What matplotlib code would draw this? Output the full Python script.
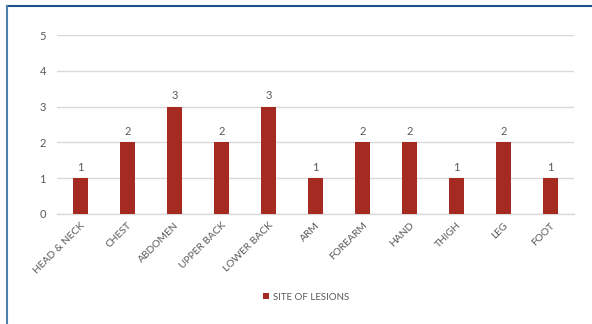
import matplotlib
matplotlib.use("Agg")
import matplotlib.pyplot as plt
from matplotlib.lines import Line2D
from matplotlib.patches import Patch

categories = ["HEAD & NECK", "CHEST", "ABDOMEN", "UPPER BACK", "LOWER BACK", "ARM",
              "FOREARM", "HAND", "THIGH", "LEG", "FOOT"]
values = [1, 2, 3, 2, 3, 1, 2, 2, 1, 2, 1]
series_name = "SITE OF LESIONS"
yticks = [0, 1, 2, 3, 4, 5]

plt.rcParams['font.family'] = ['Lato', 'DejaVu Sans']
bar_color = "#A52A22"
text_color = "#595959"

fig = plt.figure(figsize=(5.92, 3.24), dpi=100)
ax = fig.add_axes([57/592, 1-214/324, (574-57)/592, (214-35)/324])

x = list(range(len(categories)))
bars = ax.bar(x, values, width=0.32, color=bar_color, zorder=3, label=series_name)
for xi, v in zip(x, values):
    ax.annotate(str(v), (xi, v), xytext=(0, 4), textcoords="offset points",
                ha="center", va="bottom", fontsize=8, color=text_color)

ax.set_xlim(-0.5, len(categories) - 0.5)
ax.set_ylim(0, 5)
ax.set_yticks(yticks)
ax.set_yticklabels([str(t) for t in yticks], fontsize=8, color=text_color)
ax.set_xticks(x)
ax.set_xticklabels(categories, rotation=45, ha="right", rotation_mode="anchor",
                   fontsize=7.4, color=text_color)
ax.tick_params(axis="both", length=0, pad=8)
ax.tick_params(axis="x", pad=5)
ax.grid(axis="y", color="#d9d9d9", linewidth=1.0, zorder=0)
for s in ["top", "right", "left"]:
    ax.spines[s].set_visible(False)
ax.spines["bottom"].set_color("#d9d9d9")
ax.spines["bottom"].set_linewidth(1.0)

handles = [Patch(facecolor=bar_color, label=series_name)]
fig.legend(handles=handles, loc="center", bbox_to_anchor=(306/592, 1-297/324),
           frameon=False, fontsize=7, handlelength=0.6, handleheight=0.6,
           handletextpad=0.4, labelcolor=text_color)

# outer frame (top and left edges)
fig.add_artist(Line2D([7/592, 1], [1-6/324, 1-6/324], transform=fig.transFigure,
                      color="#1f4e8c", linewidth=1.5))
fig.add_artist(Line2D([7/592, 7/592], [0, 1-6/324], transform=fig.transFigure,
                      color="#4f7fae", linewidth=1.5))

fig.savefig("out.png", dpi=100)
